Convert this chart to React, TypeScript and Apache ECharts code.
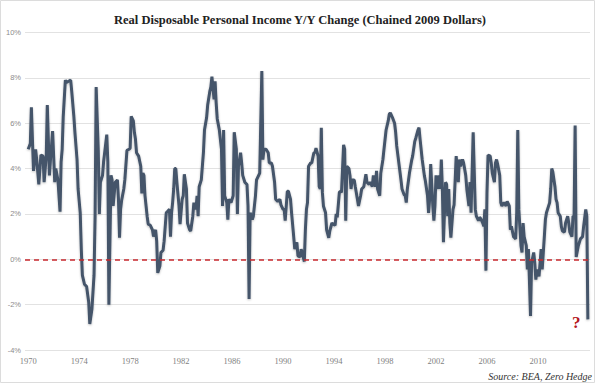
import { useEffect, useRef } from "react";
import * as echarts from "echarts";

// Months since Jan 1970 (0 = Jan 1970, 527 = Dec 2013)
const monthIndex = [
  0, 2, 3, 5, 7, 8, 10, 12, 14, 15, 17, 18, 20, 21, 23, 25, 26, 28, 30, 31, 32, 33, 35, 36, 38, 40, 41, 43, 44, 46, 47, 49,
  50, 51, 53, 55, 57, 58, 60, 62, 63, 64, 66, 67, 68, 70, 71, 73, 74, 75, 76, 78, 79, 80, 82, 84, 85, 86, 87, 88, 90, 91, 93, 95,
  96, 97, 99, 100, 101, 102, 104, 106, 107, 108, 109, 110, 112, 113, 115, 117, 118, 120, 121, 122, 124, 125, 127, 128, 130, 131, 133, 134,
  135, 136, 137, 138, 139, 140, 142, 143, 145, 146, 147, 149, 150, 152, 153, 155, 156, 158, 159, 160, 161, 163, 165, 166, 168, 169, 171, 172,
  173, 175, 176, 177, 178, 180, 182, 183, 184, 185, 187, 188, 189, 191, 193, 194, 196, 197, 198, 200, 201, 202, 204, 206, 207, 208, 209, 211,
  212, 214, 215, 217, 218, 220, 221, 222, 224, 226, 227, 229, 230, 232, 233, 235, 237, 238, 240, 241, 242, 244, 245, 247, 248, 250, 251, 253,
  254, 256, 257, 258, 260, 261, 262, 263, 264, 266, 267, 269, 270, 271, 273, 274, 275, 276, 277, 278, 280, 281, 283, 284, 286, 287, 289, 290,
  291, 293, 294, 295, 297, 298, 299, 300, 302, 303, 304, 305, 307, 308, 310, 311, 313, 314, 316, 318, 319, 321, 322, 324, 325, 327, 328, 329,
  331, 332, 334, 335, 337, 339, 340, 341, 343, 345, 346, 347, 349, 351, 352, 354, 355, 356, 357, 359, 361, 362, 364, 365, 367, 368, 369, 371,
  373, 374, 376, 377, 378, 379, 381, 382, 383, 384, 386, 387, 388, 389, 390, 391, 393, 394, 395, 396, 397, 398, 400, 401, 402, 403, 405, 406,
  407, 409, 410, 412, 413, 415, 416, 417, 419, 421, 422, 424, 425, 426, 428, 429, 430, 431, 432, 433, 435, 436, 437, 439, 440, 441, 442, 444,
  445, 446, 448, 450, 451, 453, 454, 455, 457, 458, 459, 460, 461, 462, 464, 465, 466, 467, 469, 470, 471, 472, 473, 474, 476, 477, 478, 479,
  481, 482, 483, 484, 486, 487, 488, 489, 491, 492, 493, 494, 496, 497, 498, 499, 501, 502, 503, 505, 506, 508, 509, 510, 512, 513, 514, 515,
  516, 518, 520, 521, 522, 523, 525, 526, 527,
];

// Real disposable personal income, year-over-year change (%)
const yoyChange = [
  4.85, 5.1, 6.7, 3.9, 4.85, 4.4, 3.3, 4.6, 4.55, 3.4, 4.55, 6.8, 3.7, 4.4, 5.65, 3.4, 4.0, 3.5, 2.1, 4.3, 4.85, 6.3, 7.9, 7.8, 7.85, 7.9, 7.4, 6.3, 5.6, 4.4, 3.1, 2.05,
  0.45, -0.7, -1.1, -1.2, -1.9, -2.85, -2.2, -0.7, 1.9, 7.6, 4.8, 2.0, 3.4, 3.7, 4.3, 5.1, 5.5, 4.3, -2.0, 3.7, 3.5, 2.35, 3.4, 3.5, 2.65, 0.95, 2.2, 2.6, 3.1, 3.5, 4.8, 4.85,
  4.9, 6.3, 6.1, 5.6, 5.3, 4.7, 4.55, 4.1, 2.9, 3.8, 3.7, 2.8, 1.9, 1.55, 1.5, 1.3, 1.0, 1.3, 0.8, -0.6, -0.3, 0.3, 0.4, 0.8, 2.05, 2.1, 2.2, 1.0,
  2.05, 2.5, 3.1, 4.0, 4.0, 3.4, 2.35, 1.55, 2.65, 2.8, 3.75, 3.1, 1.6, 1.3, 1.25, 1.9, 2.5, 2.2, 2.8, 1.9, 3.2, 3.5, 4.7, 5.7, 6.25, 6.8, 7.4, 7.6,
  8.05, 7.05, 7.85, 6.9, 6.2, 5.7, 4.85, 2.35, 5.7, 2.8, 2.5, 1.75, 2.65, 2.5, 2.8, 5.6, 4.85, 2.0, 4.1, 4.7, 4.25, 3.7, 3.4, 3.3, 2.35, -1.75, 2.05, 1.75,
  1.9, 2.8, 3.5, 3.7, 3.8, 8.3, 4.4, 4.85, 4.85, 4.7, 4.25, 4.25, 4.1, 3.4, 2.65, 2.55, 2.65, 2.4, 2.2, 2.2, 1.7, 3.0, 3.0, 2.65, 2.05, 1.0, 0.45, 0.75,
  0.15, 0.1, 0.45, 0.3, -0.1, 1.3, 2.2, 2.5, 4.1, 4.25, 4.25, 4.7, 4.7, 4.9, 4.55, 3.2, 3.1, 5.8, 2.95, 2.35, 2.05, 1.3, 0.95, 1.25, 1.6, 1.55, 1.5, 2.0,
  1.85, 2.95, 3.0, 2.95, 5.05, 4.85, 1.7, 4.1, 4.0, 3.7, 3.1, 3.5, 3.5, 3.2, 2.65, 2.35, 2.8, 3.1, 3.2, 3.75, 3.4, 3.3, 3.4, 3.2, 3.7, 3.2, 3.9, 3.1,
  2.8, 3.8, 4.4, 4.85, 5.7, 6.1, 6.4, 6.45, 6.25, 6.0, 5.6, 5.0, 4.25, 3.5, 3.1, 2.85, 2.8, 2.5, 3.1, 3.8, 4.35, 4.55, 5.2, 5.35, 5.7, 5.8, 5.3, 4.4,
  3.7, 3.45, 2.8, 2.05, 2.65, 4.2, 2.35, 1.7, 2.35, 3.7, 3.1, 3.7, 3.1, 4.4, 3.1, 0.75, 3.4, 3.3, 1.9, 3.1, 1.6, 0.95, 2.2, 2.4, 3.45, 4.55, 3.4, 4.4,
  4.1, 4.4, 4.25, 3.7, 3.1, 2.35, 3.4, 2.05, 5.6, 2.2, 1.9, 1.7, 1.85, 1.8, 1.6, 1.45, 2.2, -0.5, 2.95, 4.6, 4.55, 4.25, 3.8, 3.4, 4.25, 4.4, 4.2, 3.7,
  2.5, 2.35, 2.5, 2.35, 2.55, 2.35, 1.3, 1.45, 1.0, 0.95, 0.9, 2.05, 5.7, 2.2, 0.6, 0.3, 1.6, 1.0, 0.6, -0.45, 0.45, -1.0, -2.5, -0.15, 0.3, -0.15, -0.9, -0.45,
  -0.75, -0.15, 0.45, -0.45, 1.0, 1.75, 2.05, 2.2, 2.5, 3.1, 4.0, 3.85, 3.2, 2.65, 2.5, 2.05, 1.9, 1.45, 1.25, 1.2, 1.6, 1.9, 1.6, 1.2, 1.0, 1.9, 1.9, 5.9,
  0.1, 0.6, 0.9, 0.95, 1.0, 1.45, 2.2, 1.9, -2.65,
];

const xTickMonths = [0, 48, 96, 144, 192, 240, 288, 336, 384, 432, 480];
const xTickLabels = ["1970", "1974", "1978", "1982", "1986", "1990", "1994", "1998", "2002", "2006", "2010"];

const titleText = "Real Disposable Personal Income Y/Y Change (Chained 2009 Dollars)";
const sourceText = "Source: BEA, Zero Hedge";

export default function App() {
  const ref = useRef<HTMLDivElement>(null);

  useEffect(() => {
    const chart = echarts.init(ref.current!, null, { renderer: "svg" });
    const data = monthIndex.map((m, i) => [m, yoyChange[i]]);
    chart.setOption({
      animation: false,
      backgroundColor: "#ffffff",
      title: {
        text: titleText,
        left: "center",
        top: 8,
        textStyle: {
          fontFamily: "Liberation Serif",
          fontWeight: "bold",
          fontSize: 12.5,
          color: "#222222",
        },
      },
      grid: { left: 25, right: 10, top: 32.5, bottom: 35, containLabel: false },
      xAxis: {
        type: "value",
        min: -3,
        max: 529,
        axisLine: { show: false },
        axisTick: { show: false },
        splitLine: { show: false },
        axisLabel: {
          customValues: xTickMonths,
          formatter: (v: number) => {
            const i = xTickMonths.indexOf(Math.round(v));
            return i >= 0 ? xTickLabels[i] : "";
          },
          color: "#7f7f7f",
          fontFamily: "Liberation Serif",
          fontSize: 8.5,
          margin: 6,
        },
      },
      yAxis: {
        type: "value",
        min: -4,
        max: 10,
        interval: 2,
        axisLine: { show: false },
        axisTick: { show: false },
        axisLabel: {
          formatter: "{value}%",
          color: "#8c8c8c",
          fontFamily: "Liberation Sans",
          fontSize: 7.5,
          margin: 4,
        },
        splitLine: { show: true, lineStyle: { color: "#e2e2e2", width: 1 } },
      },
      series: [
        {
          type: "line",
          data,
          showSymbol: false,
          symbol: "none",
          lineStyle: {
            color: "#44546a",
            width: 3,
            shadowColor: "rgba(0,0,0,0.25)",
            shadowBlur: 2,
            shadowOffsetY: 1,
          },
          markLine: {
            silent: true,
            symbol: ["none", "none"],
            label: { show: false },
            lineStyle: { color: "#c8282e", type: [5, 4], width: 1.5 },
            data: [{ yAxis: 0 }],
          },
          z: 3,
        },
      ],
      graphic: [
        {
          type: "rect",
          shape: { x: 0.5, y: 0.5, width: 594, height: 382 },
          style: { fill: "none", stroke: "#dcdcdc", lineWidth: 1 },
          silent: true,
          z: -1,
        },
        {
          type: "text",
          right: 8,
          top: 371,
          style: {
            text: sourceText,
            font: 'italic 10px "Liberation Serif"',
            fill: "#333333",
          },
        },
        {
          type: "text",
          left: 572,
          top: 314,
          style: {
            text: "?",
            font: 'bold 17px "Liberation Serif"',
            fill: "#b5161d",
          },
        },
      ],
    });
    return () => chart.dispose();
  }, []);

  return (
    <div
      ref={ref}
      style={{ position: "fixed", left: 0, top: 0, width: 600, height: 385 }}
    />
  );
}
